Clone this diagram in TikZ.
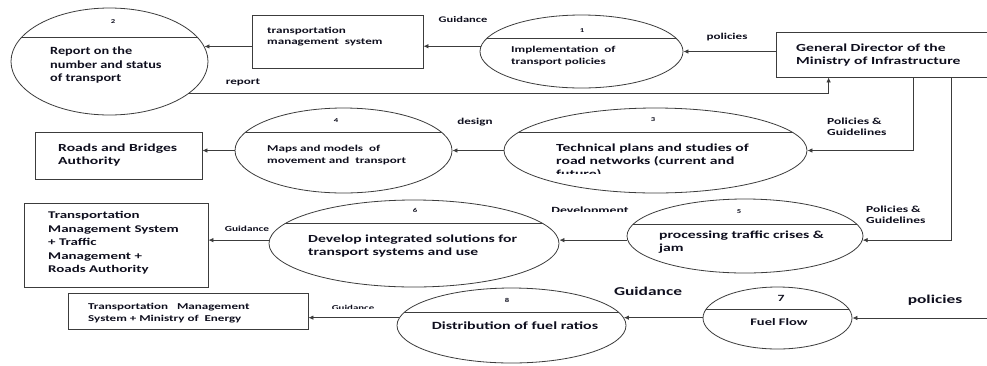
\documentclass[tikz,border=0pt]{standalone}
\usepackage{fontspec}
\setmainfont{Carlito}[FakeStretch=1.45]
\newfontfamily\narrowfam{Carlito}[FakeStretch=1.3]
\usetikzlibrary{shapes.geometric,arrows.meta}
\definecolor{lc}{RGB}{60,60,60}
\definecolor{tc}{RGB}{15,15,30}
\newcommand\fA{\narrowfam\fontsize{11}{13.5}\selectfont\bfseries}
\newcommand\fB{\fontsize{10.8}{13}\selectfont\bfseries}
\newcommand\fC{\fontsize{10.3}{13.5}\selectfont\bfseries}
\newcommand\fD{\fontsize{9}{11.5}\selectfont\bfseries}
\newcommand\fE{\fontsize{9}{11.5}\selectfont\bfseries}
\newcommand\fF{\fontsize{6}{7}\selectfont\bfseries}
\newcommand\fG{\fontsize{12}{14}\selectfont\bfseries}
\tikzset{
  proc/.style={ellipse, draw=lc, line width=0.8pt, inner sep=0pt},
  divider/.style={path picture={\draw[lc, line width=0.7pt]
      ([yshift=-#1]path picture bounding box.north west) --
      ([yshift=-#1]path picture bounding box.north east);}},
  ext/.style={rectangle, draw=lc, line width=0.8pt, inner sep=0pt},
  txt/.style={inner sep=0pt, anchor=west, align=left, text=tc},
  num/.style={inner sep=0pt, text=tc, font=\fF},
  lab/.style={inner sep=0pt, text=tc, align=left},
  arr/.style={draw=lc, line width=0.8pt, -{Latex[length=5pt,width=4.5pt]}},
}
\begin{document}
\begin{tikzpicture}[x=1pt,y=-1pt]
\useasboundingbox (0,0) rectangle (987,365);
\clip (0,0) rectangle (987,365);
\fill[white] (0,0) rectangle (987,365);

% processes (ellipses)
\node[proc, minimum width=197pt, minimum height=107pt, divider=29pt] (e2) at (109.5,61.5) {};
\node[proc, minimum width=203pt, minimum height=73pt, divider=23pt] (e1) at (581.5,51.5) {};
\node[proc, minimum width=303pt, minimum height=85pt, divider=24pt] (e3) at (655.5,150.5) {};
\node[proc, minimum width=217pt, minimum height=85pt, divider=24pt] (e4) at (343.5,150.5) {};
\node[proc, minimum width=290pt, minimum height=87pt, divider=23pt] (e6) at (414,243.5) {};
\node[proc, minimum width=236pt, minimum height=74pt, divider=25pt] (e5) at (745,236) {};
\node[proc, minimum width=229pt, minimum height=75pt, divider=24pt] (e8) at (511.5,325.5) {};
\node[proc, minimum width=149pt, minimum height=62pt, divider=22pt] (e7) at (777.5,318) {};

% external entities (boxes)
\node[ext, minimum width=171pt, minimum height=53pt] (tms) at (337.5,41.5) {};
\node[ext, minimum width=224pt, minimum height=45pt] (gd) at (888,54.5) {};
\node[ext, minimum width=167pt, minimum height=47pt] (rb) at (118.5,155.5) {};
\node[ext, minimum width=184pt, minimum height=84pt] (tmt) at (116,245) {};
\node[ext, minimum width=240pt, minimum height=36pt] (tme) at (188,311) {};

% numbers
\node[num] (n2) at (113,22) {2};
\node[num] (n1) at (582,31) {1};
\node[num] (n3) at (653,120) {3};
\node[num] (n4) at (336,121) {4};
\node[num] (n6) at (415,210) {6};
\node[num] (n5) at (739,212) {5};
\node[num] (n8) at (507,300) {8};
\node[num, font=\fontsize{9.5}{10}\selectfont\bfseries] (n7) at (781,298) {7};

% texts
\node[txt, font=\fA] (t2) at (50,65.5) {Report on the\\number and status\\of transport};
\node[txt, font=\fD] (t1) at (511,56) {Implementation\ \ of\\transport policies};
\node[txt, font=\fontsize{9}{11}\selectfont\bfseries] (ttms) at (267,37) {transportation\\management\ \ system};
\node[txt, font=\fB] (tgd) at (796,55.5) {General Director of the\\Ministry of Infrastructure};
\begin{scope}
  \clip (540,136) rectangle (800,173.5);
  \node[txt, font=\fB] (t3) at (556,162) {Technical plans and studies of\\road networks (current and\\future)};
\end{scope}
\node[txt, font=\fontsize{9}{12}\selectfont\bfseries] (t4) at (267,155) {Maps and models\ \ of\\movement and\ \ transport};
\node[txt, font=\fontsize{10.8}{13}\selectfont\bfseries] (trb) at (58,155.5) {Roads and Bridges\\Authority};
\node[txt, font=\fB] (t6) at (308,246.5) {Develop integrated solutions for\\transport systems and use};
\node[txt, font=\fC] (ttmt) at (48,243) {Transportation\\Management System\\+ Traffic\\Management +\\Roads Authority};
\node[txt, font=\fB] (t5) at (659,242.5) {processing traffic crises \&\\jam};
\node[inner sep=0pt, text=tc, font=\fontsize{11}{13}\selectfont\bfseries] (t8) at (515,326) {Distribution of fuel ratios};
\node[inner sep=0pt, text=tc, font=\fontsize{10}{12}\selectfont\bfseries] (t7) at (779,322) {Fuel\ Flow};
\node[txt, font=\fontsize{9}{12}\selectfont\bfseries] (ttme) at (88,313) {Transportation\quad Management\\System + Ministry of\ \ Energy};

% connector labels
\node[lab, font=\fontsize{8.6}{10}\selectfont\bfseries] (lg1) at (463,20) {Guidance};
\node[lab, font=\fE] (lp1) at (727,37) {policies};
\node[lab, font=\fE] (lrep) at (243,82) {report};
\node[lab, font=\fE] (ldes) at (475,122) {design};
\node[lab, font=\fontsize{9.3}{11.5}\selectfont\bfseries, anchor=west] (lpg1) at (827,127) {Policies \&\\Guidelines};
\node[lab, font=\fontsize{9.3}{11.5}\selectfont\bfseries, anchor=west] (lpg2) at (866,215) {Policies \&\\Guidelines};
\node[lab, font=\fontsize{7.8}{9}\selectfont\bfseries] (lg6) at (247,229) {Guidance};
\begin{scope}
  \clip (540,200) rectangle (640,211.5);
  \node[lab, font=\fontsize{9.5}{11}\selectfont\bfseries, anchor=base] (ldev) at (590,213.8) {Development};
\end{scope}
\begin{scope}
  \clip (320,298) rectangle (390,308.6);
  \node[lab, font=\fontsize{7.5}{9}\selectfont\bfseries, anchor=base] (lg8) at (353,310) {Guidance};
\end{scope}
\node[lab, font=\fG] (lg7) at (648,291) {Guidance};
\node[lab, font=\fG] (lp7) at (935,300) {policies};

% helper coordinates
\coordinate (rp) at ([xshift=53pt]gd.south west);
\coordinate (g1) at ([xshift=138pt]gd.south west);
\coordinate (g2) at ([xshift=176pt]gd.south west);
\coordinate (pin) at (990,318);

% connectors
\draw[arr] (gd.west |- e1.east) -- (e1.east);
\draw[arr] (e1.177) -- (tms.east |- e1.177);
\draw[arr] (tms.west |- e2.9) -- (e2.9);
\draw[arr] (e2.338) -| (rp);
\draw[arr] (g1) |- (e3.east);
\draw[arr] (g2) |- (e5.358);
\draw[arr] (e3.west) -- (e4.east);
\draw[arr] (e4.west) -- (rb.east |- e4.west);
\draw[arr] (e5.182) -- (e6.east |- e5.182);
\draw[arr] (e6.west |- e5.182) -- (tmt.east |- e5.182);
\draw[arr] (pin) -- (e7.east);
\draw[arr] (e7.west |- e8.4) -- (e8.4);
\draw[arr] (e8.176) -- (tme.east |- e8.176);
\end{tikzpicture}
\end{document}
